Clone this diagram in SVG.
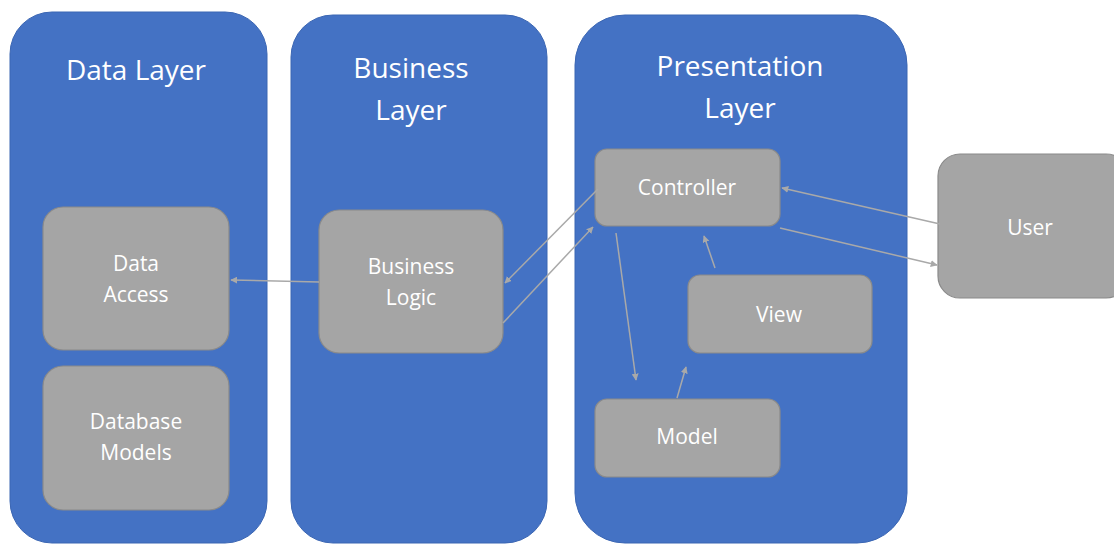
<svg xmlns="http://www.w3.org/2000/svg" width="1114" height="544" viewBox="0 0 1114 544">
  <style>
    .layer { fill: #4472c4; stroke: #3b66b3; stroke-width: 1; }
    .box { fill: #a5a5a5; stroke: #8a8a8a; stroke-width: 1.2; }
    .title { font-family: "Open Sans", "Liberation Sans", sans-serif; font-size: 28px; fill: #ffffff; text-anchor: middle; }
    .label { font-family: "Open Sans", "Liberation Sans", sans-serif; font-size: 21px; fill: #ffffff; text-anchor: middle; }
    .conn { stroke: #a9a9a9; stroke-width: 1.5; fill: none; marker-end: url(#arrow); }
  </style>
  <defs>
    <marker id="arrow" viewBox="0 0 10 10" refX="9" refY="5" markerWidth="7" markerHeight="7" markerUnits="userSpaceOnUse" orient="auto">
      <path d="M0,0 L10,5 L0,10 z" fill="#a9a9a9"/>
    </marker>
  </defs>
  <rect width="1114" height="544" fill="#ffffff"/>

  <!-- Layers -->
  <g id="data-layer">
    <rect class="layer" x="10" y="12" width="257" height="531" rx="42"/>
    <text class="title" x="136" y="80">Data Layer</text>
  </g>
  <g id="business-layer">
    <rect class="layer" x="291" y="15" width="256" height="528" rx="42"/>
    <text class="title" x="411" y="78">Business</text>
    <text class="title" x="411" y="120">Layer</text>
  </g>
  <g id="presentation-layer">
    <rect class="layer" x="575" y="15" width="332" height="528" rx="50"/>
    <text class="title" x="740" y="76">Presentation</text>
    <text class="title" x="740" y="118">Layer</text>
  </g>

  <!-- Components -->
  <g id="data-access">
    <rect class="box" x="43" y="207" width="186" height="143" rx="20"/>
    <text class="label" x="136" y="271">Data</text>
    <text class="label" x="136" y="302">Access</text>
  </g>
  <g id="database-models">
    <rect class="box" x="43" y="366" width="186" height="144" rx="20"/>
    <text class="label" x="136" y="429">Database</text>
    <text class="label" x="136" y="460">Models</text>
  </g>
  <g id="business-logic">
    <rect class="box" x="319" y="210" width="184" height="143" rx="20"/>
    <text class="label" x="411" y="274">Business</text>
    <text class="label" x="411" y="305">Logic</text>
  </g>
  <g id="controller">
    <rect class="box" x="595" y="149" width="185" height="77" rx="12"/>
    <text class="label" x="687" y="195">Controller</text>
  </g>
  <g id="view">
    <rect class="box" x="688" y="275" width="184" height="78" rx="12"/>
    <text class="label" x="779" y="322">View</text>
  </g>
  <g id="model">
    <rect class="box" x="595" y="399" width="185" height="78" rx="12"/>
    <text class="label" x="687" y="444">Model</text>
  </g>
  <g id="user">
    <rect class="box" x="938" y="154" width="190" height="144" rx="22"/>
    <text class="label" x="1030" y="235">User</text>
  </g>

  <!-- Connectors -->
  <g id="connectors">
    <line class="conn" x1="319" y1="282" x2="231" y2="280"/>
    <line class="conn" x1="598" y1="189" x2="505" y2="283"/>
    <line class="conn" x1="503" y1="323" x2="593" y2="227"/>
    <line class="conn" x1="616" y1="233" x2="636" y2="380"/>
    <line class="conn" x1="677" y1="398" x2="686" y2="367"/>
    <line class="conn" x1="715" y1="268" x2="704" y2="236"/>
    <line class="conn" x1="940" y1="224" x2="782" y2="188"/>
    <line class="conn" x1="780" y1="228" x2="937" y2="265"/>
  </g>
</svg>
